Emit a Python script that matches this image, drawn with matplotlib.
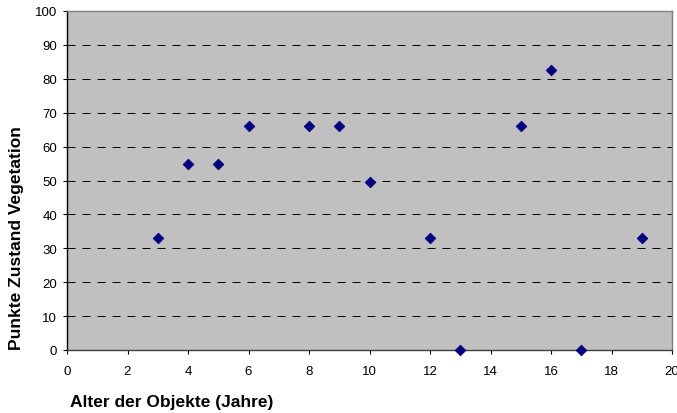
import matplotlib.pyplot as plt

# Alter der Objekte vs. Punkte Zustand Vegetation
alter = [3, 4, 5, 6, 8, 9, 10, 12, 13, 15, 16, 17, 19]
punkte = [33, 55, 55, 66, 66, 66, 49.5, 33, 0, 66, 82.5, 0, 33]

x_ticks = list(range(0, 21, 2))
y_ticks = list(range(0, 101, 10))

plt.rcParams['font.family'] = ['Liberation Sans', 'DejaVu Sans']

fig = plt.figure(figsize=(6.77, 4.14), dpi=100)
ax = fig.add_axes([67 / 677, 63 / 414, 605 / 677, 339 / 414])
ax.set_facecolor('#c0c0c0')

# dashed horizontal gridlines like Excel
for yv in y_ticks[1:]:
    ax.axhline(yv, color='black', lw=0.72, linestyle=(0, (8, 7)), zorder=1)

ax.scatter(alter, punkte, marker='D', s=30, color='#000080',
           edgecolors='#000080', linewidths=0.5, zorder=3, clip_on=False)

ax.set_xlim(0, 20)
ax.set_ylim(0, 100)
ax.set_xticks(x_ticks)
ax.set_yticks(y_ticks)
ax.tick_params(axis='x', direction='out', length=3, width=0.8, pad=7.5,
               labelsize=9.5, colors='black')
ax.tick_params(axis='y', direction='out', length=3, width=0.8, pad=4,
               labelsize=9.5, colors='black')

ax.spines['left'].set_color('black')
ax.spines['bottom'].set_color('#404040')
ax.spines['top'].set_color('#808080')
ax.spines['right'].set_color('#808080')
for s in ax.spines.values():
    s.set_linewidth(1.0)

ax.set_xlabel('Alter der Objekte (Jahre)', fontsize=12.5, fontweight='bold',
              va='center', ha='center')
ax.set_ylabel('Punkte Zustand Vegetation', fontsize=12.5, fontweight='bold',
              va='center', ha='center')
ax.xaxis.set_label_coords(105 / 605, -52 / 339)
ax.yaxis.set_label_coords(-50 / 605, 113 / 339)

fig.savefig('out.png', dpi=100)
